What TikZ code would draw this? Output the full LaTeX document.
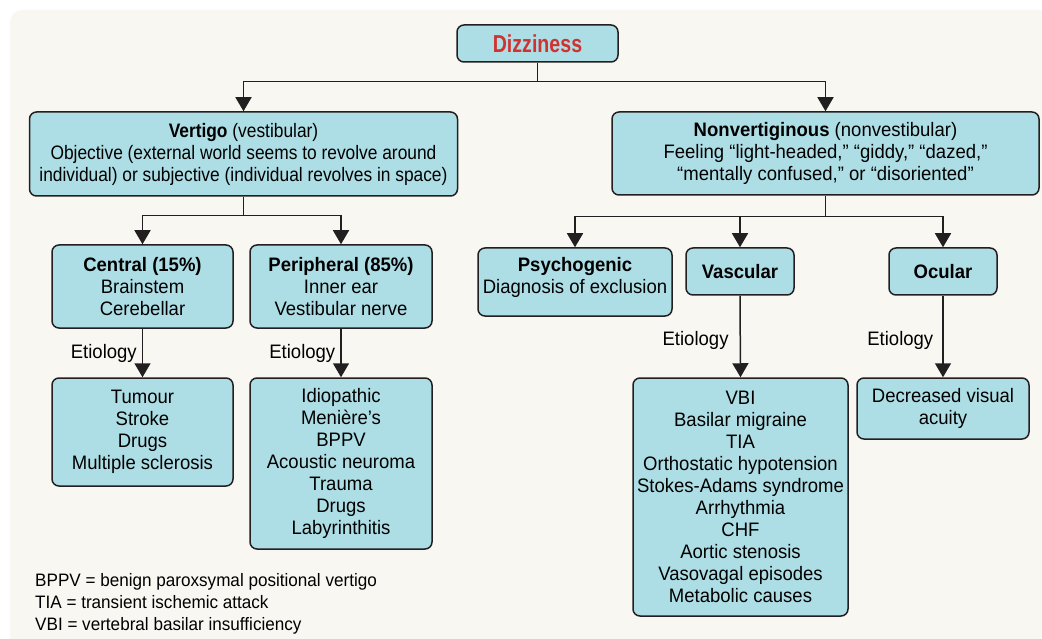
\documentclass[tikz,border=0pt]{standalone}
\usepackage{fontspec}
\setmainfont{Liberation Sans}[FakeStretch=0.95]
\usetikzlibrary{arrows.meta}
\definecolor{boxblue}{RGB}{173,222,229}
\definecolor{dizred}{RGB}{208,50,50}
\definecolor{panel}{RGB}{248,247,241}
\definecolor{linec}{RGB}{35,31,32}

\begin{document}
\begin{tikzpicture}[x=1pt,y=-1pt,
  box/.style={draw=linec, line width=1.5pt, fill=boxblue, rounded corners=7pt,
    align=center, inner sep=0pt, font=\fontsize{19.5}{22}\selectfont},
  arr/.style={-{Triangle[width=16pt,length=14pt]}, line width=1.5pt, draw=linec},
  lnk/.style={line width=1.5pt, draw=linec},
  lbl/.style={inner sep=0pt, font=\fontsize{19.5}{22}\selectfont}]

\useasboundingbox (0,0) rectangle (1042,639);
\fill[panel, rounded corners=12pt] (10,10) rectangle (1060,660);

\node[box, minimum width=161pt, minimum height=37pt, text=dizred,
  font=\bfseries\fontsize{24.5}{28}\selectfont\addfontfeature{FakeStretch=0.8}] (diz) at (537.5,43.5) {Dizziness};

\node[box, minimum width=428pt, minimum height=84pt,
  font=\fontsize{19.5}{22}\selectfont\addfontfeature{FakeStretch=0.89}] (vert) at (243.5,154)
  {\textbf{Vertigo} (vestibular)\\Objective (external world seems to revolve around\\individual) or subjective (individual revolves in space)};
\node[box, minimum width=427pt, minimum height=83pt] (nonv) at (825.5,153.5)
  {\textbf{Nonvertiginous} (nonvestibular)\\Feeling “light-headed,” “giddy,” “dazed,”\\“mentally confused,” or “disoriented”};

\node[box, minimum width=181pt, minimum height=83pt] (cen) at (142.5,286.5)
  {\textbf{Central (15\%)}\\Brainstem\\Cerebellar};
\node[box, minimum width=182pt, minimum height=83pt] (per) at (341,286.5)
  {\textbf{Peripheral (85\%)}\\Inner ear\\Vestibular nerve};

\node[box, minimum width=181pt, minimum height=108pt] (tum) at (142.5,432)
  {Tumour\\Stroke\\Drugs\\Multiple sclerosis};
\node[box, minimum width=182pt, minimum height=171pt] (idio) at (341,463.5)
  {Idiopathic\\Menière’s\\BPPV\\Acoustic neuroma\\Trauma\\Drugs\\Labyrinthitis};

\node[box, minimum width=194pt, minimum height=68pt] (psy) at (575,282)
  {\textbf{Psychogenic}\\Diagnosis of exclusion\vspace{10pt}};
\node[box, minimum width=108pt, minimum height=47pt] (vas) at (740,271.5)
  {\textbf{Vascular}};
\node[box, minimum width=108pt, minimum height=47pt] (ocu) at (943,271.5)
  {\textbf{Ocular}};

\node[box, minimum width=215pt, minimum height=238pt] (vbi) at (740.5,497)
  {VBI\\Basilar migraine\\TIA\\Orthostatic hypotension\\Stokes-Adams syndrome\\Arrhythmia\\CHF\\Aortic stenosis\\Vasovagal episodes\\Metabolic causes};
\node[box, minimum width=172pt, minimum height=61pt] (vis) at (943,408.5)
  {Decreased visual\\acuity};

\draw[lnk] (diz.south) -- ++(0,19) coordinate (j0);
\draw[arr] (j0) -| (vert.north);
\draw[arr] (j0) -| (nonv.north);

\draw[lnk] (vert.south) -- ++(0,19) coordinate (j1);
\draw[arr] (j1) -| (cen.north);
\draw[arr] (j1) -| (per.north);

\draw[lnk] (nonv.south) -- ++(0,21) coordinate (j2);
\foreach \b in {psy,vas,ocu}
{
\draw[arr] (j2) -| (\b.north);
}

\draw[arr] (cen.south) -- (tum.north) node[lbl, midway, left=5pt] (et1) {Etiology};
\draw[arr] (per.south) -- (idio.north) node[lbl, midway, left=5pt] (et2) {Etiology};
\draw[arr] (vas.south) -- (vbi.north) node[lbl, pos=0.55, left=11pt] (et3) {Etiology};
\draw[arr] (ocu.south) -- (vis.north) node[lbl, pos=0.55, left=9pt] (et4) {Etiology};

\node[lbl, anchor=west, align=left, font=\fontsize{18}{22}\selectfont] (note) at (35,604)
  {BPPV = benign paroxsymal positional vertigo\\TIA = transient ischemic attack\\VBI = vertebral basilar insufficiency};

\end{tikzpicture}
\end{document}
